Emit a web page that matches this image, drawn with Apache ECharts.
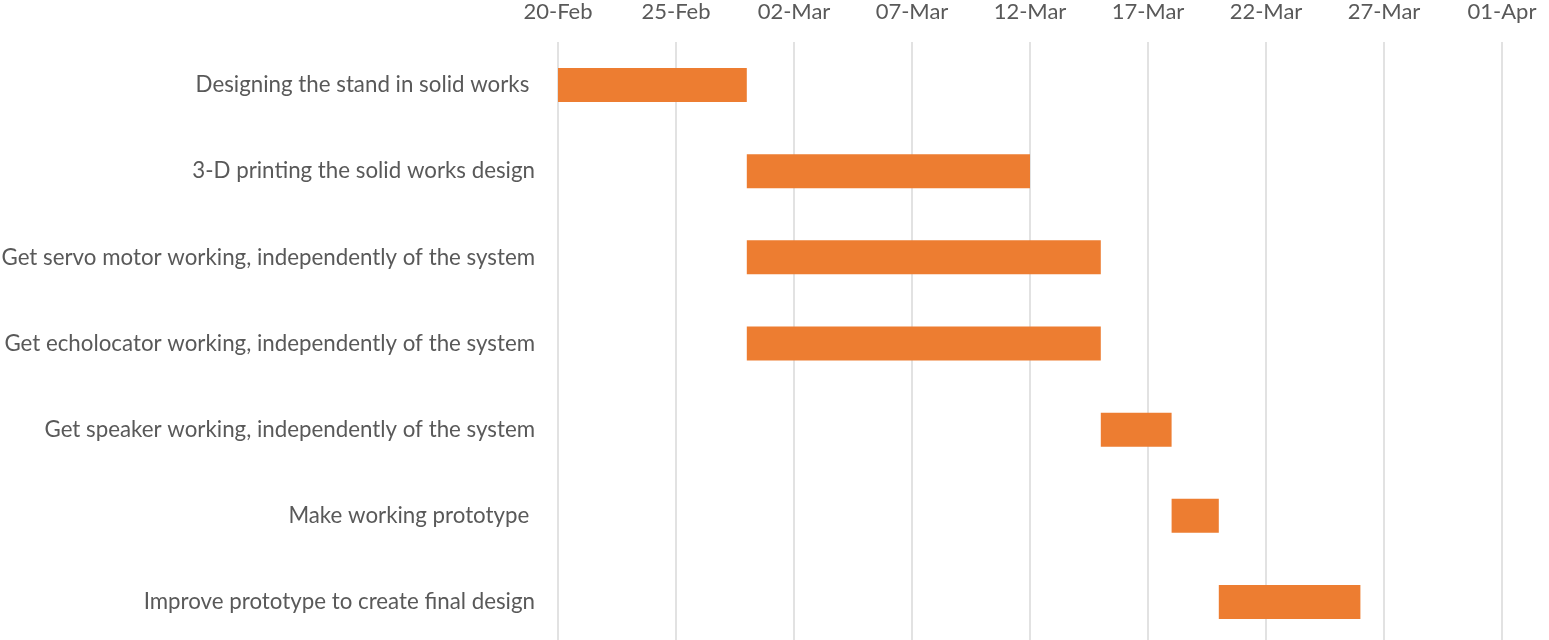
<!DOCTYPE html>
<html>
<head>
<meta charset="utf-8">
<script src="https://cdn.jsdelivr.net/npm/echarts@6/dist/echarts.min.js"></script>
<style>
  html, body { margin: 0; padding: 0; background: #fff; overflow: hidden; }
  #chart { width: 1549px; height: 652px; }
</style>
</head>
<body>
<div id="chart"></div>
<script>
// tasks, top to bottom
var tasks = [
  'Designing the stand in solid works ',
  '3-D printing the solid works design',
  'Get servo motor working, independently of the system',
  'Get echolocator working, independently of the system',
  'Get speaker working, independently of the system',
  'Make working prototype ',
  'Improve prototype to create final design'
];
// days after 20-Feb
var startDays = [0, 8, 8, 8, 23, 26, 28];
var durations = [8, 12, 15, 15, 3, 2, 6];
// axis labels, one every 5 days
var tickLabels = ['20-Feb', '25-Feb', '02-Mar', '07-Mar', '12-Mar', '17-Mar', '22-Mar', '27-Mar', '01-Apr'];

var textColor = '#595959';
var fontName = 'Lato';

// plot area runs a few px past the bottom edge, like the original
var chart = echarts.init(document.getElementById('chart'));
chart.setOption({
  animation: false,
  grid: { left: 558, right: 47, top: 42, height: 603, containLabel: false, outerBoundsMode: 'none' },
  xAxis: {
    type: 'value',
    position: 'top',
    min: 0,
    max: 40,
    interval: 5,
    axisLine: { show: false },
    axisTick: { show: false },
    splitLine: { lineStyle: { color: '#d9d9d9', width: 1.5 } },
    axisLabel: {
      color: textColor, fontFamily: fontName, fontSize: 22, margin: 19,
      formatter: function (v) { return tickLabels[Math.round(v / 5)]; }
    }
  },
  yAxis: {
    type: 'category',
    inverse: true,
    data: tasks,
    axisLine: { show: false },
    axisTick: { show: false },
    axisLabel: { color: textColor, fontFamily: fontName, fontSize: 22.3, margin: 23 }
  },
  series: [
    {
      type: 'bar', stack: 'g', data: startDays, barWidth: 34,
      itemStyle: { color: 'transparent' }, silent: true
    },
    {
      type: 'bar', stack: 'g', data: durations, barWidth: 34,
      itemStyle: { color: '#ed7d31' }
    }
  ]
});
</script>
</body>
</html>
